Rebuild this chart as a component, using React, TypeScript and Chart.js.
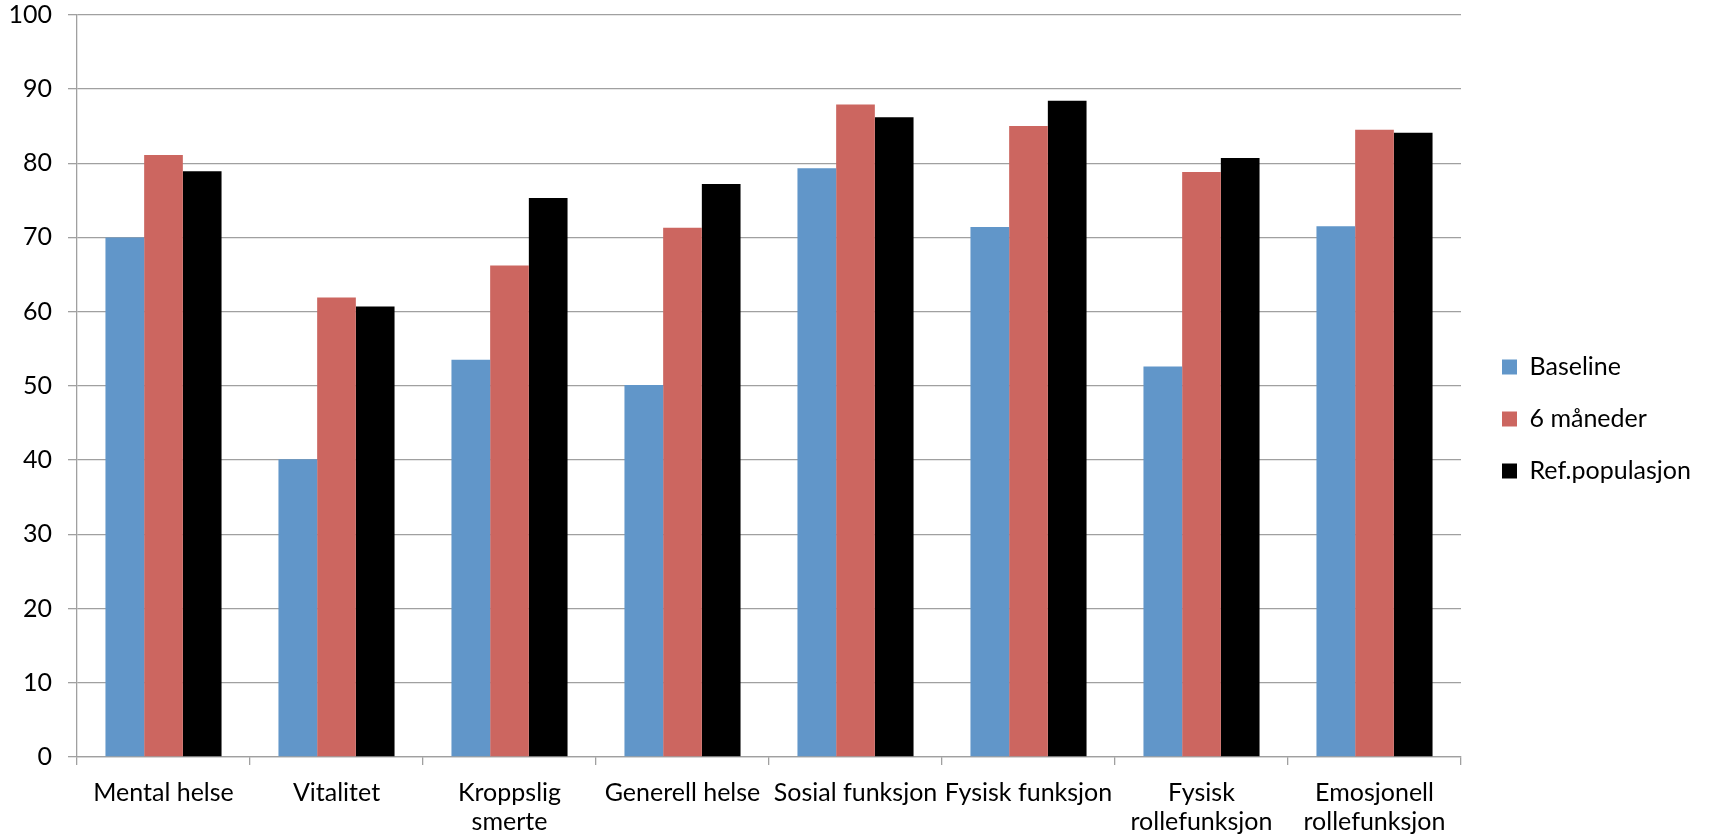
import React, { useEffect, useRef } from 'react';
import { Chart, registerables } from 'chart.js';

Chart.register(...registerables);

const categories: (string | string[])[] = [
  'Mental helse',
  'Vitalitet',
  ['Kroppslig', 'smerte'],
  'Generell helse',
  'Sosial funksjon',
  'Fysisk funksjon',
  ['Fysisk', 'rollefunksjon'],
  ['Emosjonell', 'rollefunksjon'],
];

const seriesNames = ['Baseline', '6 måneder', 'Ref.populasjon'];
const baseline = [70.0, 40.1, 53.5, 50.1, 79.3, 71.4, 52.6, 71.5];
const months6 = [81.1, 61.9, 66.2, 71.3, 87.9, 85.0, 78.8, 84.5];
const refPop = [78.9, 60.7, 75.3, 77.2, 86.2, 88.4, 80.7, 84.1];
const yTicks = { min: 0, max: 100, step: 10 };

const FONT = 'Lato, "Open Sans", sans-serif';
const GRID = '#a0a0a0';

export default function App() {
  const ref = useRef<HTMLCanvasElement | null>(null);

  useEffect(() => {
    if (!ref.current) return;
    const legendTweak = {
      id: 'legendTweak',
      afterInit(chart: any) {
        const lg = chart.legend;
        if (lg && !lg.__patched) {
          const orig = lg.fit;
          lg.fit = function () {
            orig.call(this);
            this.width = 252;
          };
          lg.__patched = true;
        }
      },
      afterLayout(chart: any) {
        const lg = chart.legend;
        if (lg) {
          lg.left = 1475;
          lg.right = 1713;
          lg.top = 0;
          lg.bottom = 838;
        }
      },
    };

    const chart = new Chart(ref.current, {
      type: 'bar',
      data: {
        labels: categories,
        datasets: [
          { label: seriesNames[0], data: baseline, backgroundColor: '#6196C9', borderWidth: 0 },
          { label: seriesNames[1], data: months6, backgroundColor: '#CC6660', borderWidth: 0 },
          { label: seriesNames[2], data: refPop, backgroundColor: '#000000', borderWidth: 0 },
        ],
      },
      options: {
        responsive: false,
        animation: false,
        devicePixelRatio: 1,
        layout: { padding: { top: 0, right: 0, bottom: 0, left: 0 } },
        datasets: { bar: { categoryPercentage: 0.671, barPercentage: 1 } },
        plugins: {
          tooltip: { enabled: false },
          legend: {
            position: 'right',
            labels: {
              boxWidth: 15,
              boxHeight: 15,
              padding: 27,
              color: '#000',
              font: { family: FONT, size: 25 },
            },
          },
        },
        scales: {
          x: {
            offset: true,
            grid: {
              offset: true,
              drawOnChartArea: false,
              drawTicks: true,
              tickLength: 8,
              color: GRID,
              lineWidth: 1.3,
            },
            border: { color: GRID, width: 1.3 },
            ticks: {
              autoSkip: false,
              maxRotation: 0,
              minRotation: 0,
              padding: 13,
              color: '#000',
              font: { family: FONT, size: 25, lineHeight: 1.17 },
            },
            afterFit(scale: any) {
              scale.height = 81;
            },
          },
          y: {
            min: yTicks.min,
            max: yTicks.max,
            grid: {
              color: GRID,
              lineWidth: 1.3,
              drawTicks: true,
              tickLength: 9,
            },
            border: { color: GRID, width: 1.3 },
            ticks: {
              stepSize: yTicks.step,
              padding: 16,
              color: '#000',
              font: { family: FONT, size: 25, lineHeight: 1.18 },
            },
            afterFit(scale: any) {
              scale.width = 77;
              scale.paddingTop = 14.7;
              scale.paddingBottom = 0;
            },
          },
        },
      },
      plugins: [legendTweak],
    });
    return () => chart.destroy();
  }, []);

  return (
    <div style={{ position: 'absolute', left: 0, top: 0, width: 1713, height: 838, background: '#fff' }}>
      <canvas ref={ref} width={1713} height={838} style={{ width: 1713, height: 838, display: 'block' }} />
    </div>
  );
}
